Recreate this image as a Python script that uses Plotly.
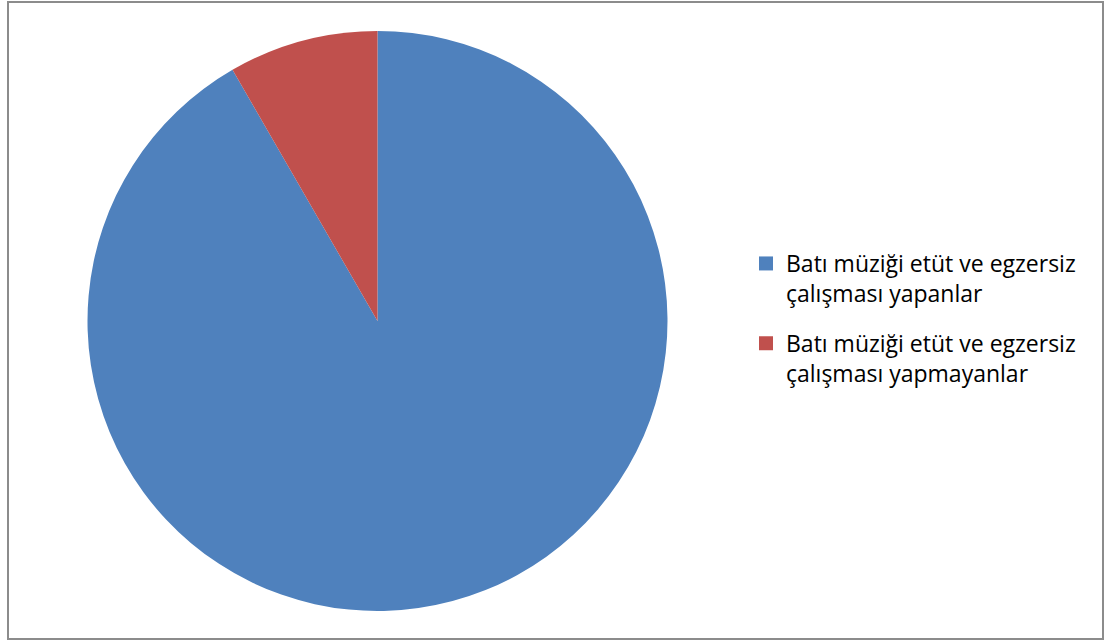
import plotly.graph_objects as go

W, H = 1109, 642

labels = [
    "Batı müziği etüt ve egzersiz<br>çalışması yapanlar",
    "Batı müziği etüt ve egzersiz<br>çalışması yapmayanlar",
]
values = [11, 1]
colors = ["#4F81BD", "#C0504D"]

fig = go.Figure()

fig.add_trace(
    go.Pie(
        labels=labels,
        values=values,
        marker=dict(colors=colors, line=dict(width=0)),
        sort=False,
        direction="clockwise",
        rotation=0,
        textinfo="none",
        hoverinfo="label+percent",
        showlegend=False,
        domain=dict(x=[87 / W, 668 / W], y=[1 - 611 / H, 1 - 31 / H]),
    )
)

# legend entries, one group per slice so the entries can be spaced apart
for i, (lab, col) in enumerate(zip(labels, colors)):
    fig.add_trace(
        go.Scatter(
            x=[None],
            y=[None],
            mode="markers",
            name=lab,
            legendgroup=f"g{i}",
            marker=dict(symbol="square", size=14, color=col, line=dict(width=0)),
            hoverinfo="skip",
        )
    )

fig.update_layout(
    width=W,
    height=H,
    margin=dict(l=0, r=0, t=0, b=0),
    paper_bgcolor="white",
    plot_bgcolor="white",
    xaxis=dict(visible=False),
    yaxis=dict(visible=False),
    font=dict(family="Open Sans, Noto Sans, sans-serif", size=23, color="#000000"),
    legend=dict(
        x=746 / W,
        y=1 - 242 / H,
        xanchor="left",
        yanchor="top",
        valign="top",
        tracegroupgap=17,
        bgcolor="rgba(0,0,0,0)",
        font=dict(size=23),
    ),
    shapes=[
        dict(
            type="rect",
            xref="paper",
            yref="paper",
            x0=8 / W,
            x1=1103 / W,
            y0=1 - 639 / H,
            y1=1 - 2 / H,
            line=dict(color="#8C8C8C", width=2),
            fillcolor="rgba(0,0,0,0)",
            layer="below",
        )
    ],
)

fig.write_html("out.html")
